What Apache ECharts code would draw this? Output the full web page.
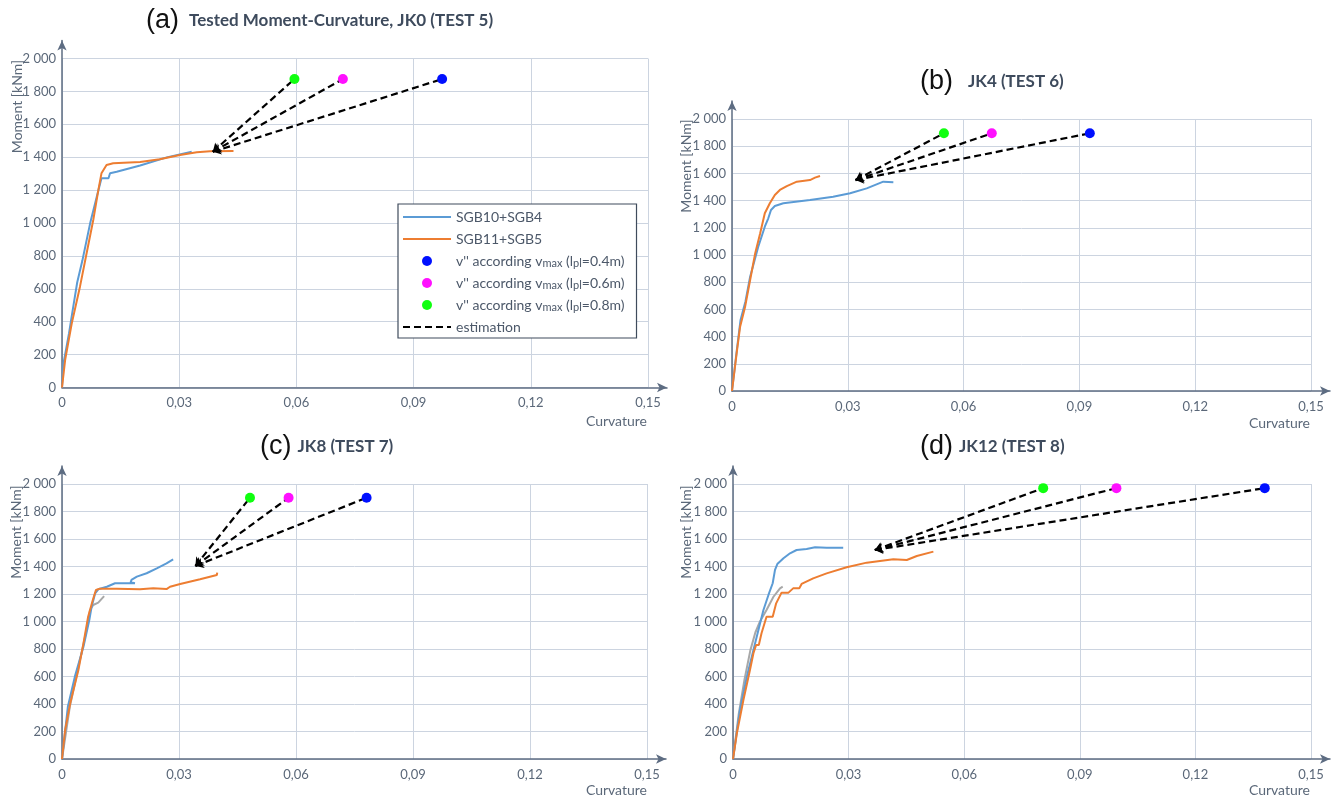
<!DOCTYPE html>
<html><head><meta charset="utf-8">
<script src="https://cdn.jsdelivr.net/npm/echarts@6/dist/echarts.min.js"></script>
<style>html,body{margin:0;padding:0;background:#fff}#c{width:1341px;height:796px}</style>
</head><body><div id="c"></div>
<script>
// ---------- DATA ----------
const xTickLabels = ['0', '0,03', '0,06', '0,09', '0,12', '0,15'];
const yTickLabels = ['0', '200', '400', '600', '800', '1 000', '1 200', '1 400', '1 600', '1 800', '2 000'];
const lineNames = ['SGB10+SGB4', 'SGB11+SGB5'];
const dotNames = ["v'' according vmax (lpl=0.4m)", "v'' according vmax (lpl=0.6m)", "v'' according vmax (lpl=0.8m)"];
const estimationName = 'estimation';
const panelTags = ['(a)', '(b)', '(c)', '(d)'];
const panelTitles = ['Tested Moment-Curvature, JK0 (TEST 5)', 'JK4 (TEST 6)', 'JK8 (TEST 7)', 'JK12 (TEST 8)'];

// panel (a) JK0
const aBlue = [[0,0],[0.0004,150],[0.0018,330],[0.0028,480],[0.0039,640],[0.0052,770],[0.0072,998],[0.0089,1160],[0.0101,1272],[0.0119,1272],[0.0123,1302],[0.014,1312],[0.02,1350],[0.0268,1399],[0.0332,1433]];
const aOrange = [[0,0],[0.0008,167],[0.0025,390],[0.0046,613],[0.0063,816],[0.008,1018],[0.0093,1200],[0.0101,1302],[0.0114,1353],[0.0131,1363],[0.02,1371],[0.025,1387],[0.0302,1413],[0.0345,1430],[0.0379,1436],[0.0439,1438]];
const aDots = [[0.0973,1875],[0.0719,1875],[0.0595,1875]];
const aStart = [0.0386,1433];

// panel (b) JK4
const bBlue = [[0,0],[0.0012,290],[0.0022,520],[0.0035,660],[0.0047,840],[0.0068,1061],[0.0085,1208],[0.0094,1270],[0.0099,1270],[0.0101,1331],[0.0111,1360],[0.0133,1380],[0.0202,1404],[0.0262,1429],[0.0306,1454],[0.0349,1490],[0.0392,1539],[0.0418,1535]];
const bOrange = [[0,0],[0.0012,277],[0.0021,473],[0.0034,620],[0.0047,816],[0.006,1012],[0.0073,1160],[0.0085,1307],[0.0098,1380],[0.0111,1441],[0.0124,1478],[0.0142,1507],[0.0168,1539],[0.0202,1551],[0.0215,1569],[0.0228,1581]];
const bDots = [[0.0927,1895],[0.0673,1895],[0.0549,1895]];
const bStart = [0.032,1551];

// panel (c) JK8
const cGray = [[0,0],[0.002,380],[0.004,640],[0.006,900],[0.0072,1084],[0.008,1120],[0.0093,1137],[0.0108,1185]];
const cBlue = [[0,0],[0.0015,380],[0.0033,599],[0.0055,817],[0.007,1011],[0.0076,1108],[0.0085,1205],[0.0093,1234],[0.0115,1253],[0.0136,1278],[0.0187,1278],[0.0176,1285],[0.0178,1302],[0.0192,1326],[0.0217,1351],[0.0243,1387],[0.0268,1423],[0.0285,1452]];
const cOrange = [[0,0],[0.0008,211],[0.0021,405],[0.0042,647],[0.0055,841],[0.0067,1035],[0.0079,1156],[0.0087,1229],[0.0097,1239],[0.014,1239],[0.02,1234],[0.0234,1241],[0.0268,1236],[0.0277,1253],[0.0303,1273],[0.0354,1307],[0.0397,1338],[0.0398,1355]];
const cDots = [[0.0781,1900],[0.0581,1900],[0.0482,1900]];
const cStart = [0.0342,1404];

// panel (d) JK12
const dGray = [[0,0],[0.0015,330],[0.003,580],[0.0045,790],[0.0058,920],[0.007,1000],[0.0087,1084],[0.0105,1180],[0.0122,1241],[0.0129,1253]];
const dBlue = [[0,0],[0.0018,356],[0.0036,599],[0.0053,793],[0.0066,938],[0.0079,1084],[0.0092,1193],[0.0103,1278],[0.0109,1375],[0.0115,1418],[0.0131,1460],[0.0148,1496],[0.0165,1520],[0.0191,1527],[0.0213,1540],[0.0243,1537],[0.0286,1537]];
const dOrange = [[0,0],[0.001,187],[0.0027,429],[0.0044,647],[0.0053,769],[0.006,829],[0.0067,829],[0.0074,914],[0.0087,1035],[0.0103,1035],[0.0112,1132],[0.0126,1210],[0.0144,1210],[0.0156,1241],[0.0172,1241],[0.0178,1273],[0.0208,1314],[0.0243,1350],[0.0295,1394],[0.0347,1428],[0.0416,1452],[0.0451,1447],[0.0477,1476],[0.052,1508]];
const dDots = [[0.138,1970],[0.0995,1970],[0.0805,1970]];
const dStart = [0.0368,1520];

const panelData = [
  {gray: null, blue: aBlue, orange: aOrange, dots: aDots, start: aStart},
  {gray: null, blue: bBlue, orange: bOrange, dots: bDots, start: bStart},
  {gray: cGray, blue: cBlue, orange: cOrange, dots: cDots, start: cStart},
  {gray: dGray, blue: dBlue, orange: dOrange, dots: dDots, start: dStart}
];

// ---------- LAYOUT / STYLE ----------
const FONT = 'Lato';
const LABEL_COLOR = '#5b6879';
const AXIS_COLOR = '#5d6c82';
const GRID_COLOR = '#ccd4e0';
const TITLE_COLOR = '#3e4b5d';
const BLUE = '#5b9bd5', ORANGE = '#ed7d31', GRAY = '#a8a8a8';
const DOT_COLORS = ['#0010ff', '#ff10ff', '#10ff10'];

const layouts = [
  {left: 62, top: 58.5, width: 586, height: 329, tLeft: 146, tTop: 6, gap: 10, yName: [17, 106.5], xName: [647, 421.5]},
  {left: 732, top: 119, width: 579, height: 272, tLeft: 920, tTop: 67, gap: 15, yName: [686, 166], xName: [1310, 423]},
  {left: 62, top: 484, width: 585, height: 275, tLeft: 260, tTop: 432, gap: 6, yName: [16, 532], xName: [647, 790]},
  {left: 733, top: 484, width: 578, height: 275, tLeft: 920, tTop: 432, gap: 6, yName: [686.5, 532], xName: [1310, 790]}
];

const grid = [], xAxis = [], yAxis = [], series = [], title = [], graphic = [];

layouts.forEach((L, i) => {
  grid.push({left: L.left, top: L.top, width: L.width, height: L.height, outerBoundsMode: 'none'});
  grid.push({left: L.left, top: L.top - 18, width: L.width + 19, height: L.height + 18, outerBoundsMode: 'none'});
  const gi = i * 2, di = i * 2 + 1;
  xAxis.push({
    gridIndex: gi, type: 'value', min: 0, max: 0.15, interval: 0.03,
    axisLine: {show: false}, axisTick: {show: false},
    splitLine: {show: true, lineStyle: {color: GRID_COLOR, width: 1}},
    axisLabel: {color: LABEL_COLOR, fontFamily: FONT, fontSize: 13, margin: 9,
      formatter: v => xTickLabels[Math.round(v / 0.03)] ?? ''}
  });
  yAxis.push({
    gridIndex: gi, type: 'value', min: 0, max: 2000, interval: 200,
    axisLine: {show: false}, axisTick: {show: false},
    splitLine: {show: true, lineStyle: {color: GRID_COLOR, width: 1}},
    axisLabel: {color: LABEL_COLOR, fontFamily: FONT, fontSize: 13, margin: 6,
      formatter: v => yTickLabels[Math.round(v / 200)] ?? ''}
  });
  xAxis.push({
    gridIndex: di, type: 'value', min: 0, max: 1, axisLabel: {show: false}, axisTick: {show: false}, splitLine: {show: false},
    axisLine: {show: true, onZero: false, symbol: ['none', 'arrow'], symbolSize: [7, 10], lineStyle: {color: AXIS_COLOR, width: 1.5}}
  });
  yAxis.push({
    gridIndex: di, type: 'value', min: 0, max: 1, axisLabel: {show: false}, axisTick: {show: false}, splitLine: {show: false},
    axisLine: {show: true, onZero: false, symbol: ['none', 'arrow'], symbolSize: [7, 10], lineStyle: {color: AXIS_COLOR, width: 1.5}}
  });

  const D = panelData[i];
  if (D.gray) {
    series.push({type: 'line', name: 'gray' + i, xAxisIndex: gi, yAxisIndex: gi, data: D.gray, symbol: 'none',
      lineStyle: {color: GRAY, width: 2}, z: 2, silent: true});
  }
  series.push({type: 'line', name: lineNames[0], xAxisIndex: gi, yAxisIndex: gi, data: D.blue, symbol: 'none',
    itemStyle: {color: BLUE}, lineStyle: {color: BLUE, width: 2}, z: 3});
  series.push({type: 'line', name: lineNames[1], xAxisIndex: gi, yAxisIndex: gi, data: D.orange, symbol: 'none',
    itemStyle: {color: ORANGE}, lineStyle: {color: ORANGE, width: 2}, z: 4});
  series.push({
    type: 'line', name: estimationName, xAxisIndex: gi, yAxisIndex: gi, data: [], symbol: 'none',
    itemStyle: {color: '#000'}, lineStyle: {color: '#000', width: 2.2, type: [7, 4]}, z: 5,
    markLine: {
      silent: true, symbol: ['arrow', 'none'], symbolSize: 8, label: {show: false},
      lineStyle: {color: '#000', width: 2.2, type: [7, 4]},
      data: D.dots.map(p => [{coord: D.start}, {coord: p}])
    }
  });
  D.dots.forEach((p, k) => {
    series.push({type: 'scatter', name: dotNames[k], xAxisIndex: gi, yAxisIndex: gi, data: [p],
      symbol: 'circle', symbolSize: 10, itemStyle: {color: DOT_COLORS[k], opacity: 1}, z: 6});
  });

  title.push({
    left: L.tLeft, top: L.tTop, padding: 0,
    text: '{p|' + panelTags[i] + '}{t|' + panelTitles[i] + '}',
    textStyle: {
      rich: {
        p: {fontFamily: 'Liberation Sans', fontSize: 27, fontWeight: 'normal', color: '#111', lineHeight: 30},
        t: {fontFamily: FONT, fontSize: 17, fontWeight: 'bold', color: TITLE_COLOR, lineHeight: 30, padding: [0, 0, 0, L.gap]}
      }
    }
  });

  graphic.push({
    type: 'text', x: L.yName[0], y: L.yName[1], rotation: Math.PI / 2, silent: true,
    style: {text: 'Moment [kNm]', fill: LABEL_COLOR, font: '14px ' + FONT, align: 'center', verticalAlign: 'middle'}
  });
  graphic.push({
    type: 'text', x: L.xName[0], y: L.xName[1], silent: true,
    style: {text: 'Curvature', fill: LABEL_COLOR, font: '14px ' + FONT, align: 'right', verticalAlign: 'middle'}
  });
});

const legendFormatter = name => {
  const m = name.match(/lpl=(\d\.\d)m/);
  if (!m) return name;
  return "{n|v'' according v}{s|max}{n| (l}{s|pl}{n|=" + m[1] + "m)}";
};

const hideSym = {opacity: 0};
const option = {
  backgroundColor: '#fff',
  animation: false,
  title: title,
  grid: grid,
  xAxis: xAxis,
  yAxis: yAxis,
  series: series,
  graphic: graphic,
  legend: {
    left: 398, top: 204, orient: 'vertical',
    data: [
      {name: lineNames[0], itemStyle: hideSym},
      {name: lineNames[1], itemStyle: hideSym},
      {name: dotNames[0]}, {name: dotNames[1]}, {name: dotNames[2]},
      {name: estimationName, itemStyle: hideSym}
    ],
    itemWidth: 48, itemHeight: 10, itemGap: 6, itemTextGap: 8,
    padding: [5, 12, 3, 4],
    borderColor: '#3f4b5c', borderWidth: 1.2, backgroundColor: '#fff',
    formatter: legendFormatter,
    textStyle: {
      fontFamily: FONT, fontSize: 14, color: '#4c5869', lineHeight: 16,
      rich: {
        n: {fontFamily: FONT, fontSize: 14, color: '#4c5869', lineHeight: 16},
        s: {fontFamily: FONT, fontSize: 11, color: '#4c5869', lineHeight: 10, verticalAlign: 'bottom'}
      }
    }
  }
};

const chart = echarts.init(document.getElementById('c'));
chart.setOption(option);
</script>
</body></html>
